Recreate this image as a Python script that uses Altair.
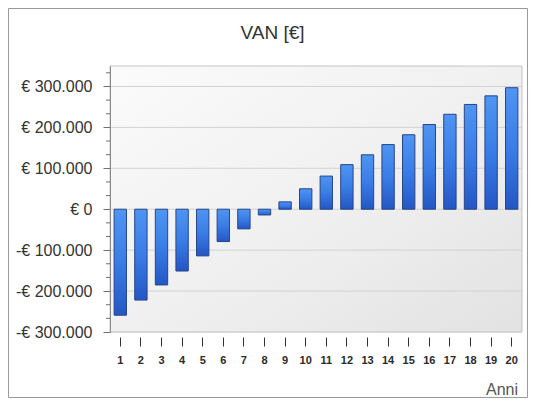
import altair as alt
import pandas as pd

# ---- data ----
years = list(range(1, 21))
van = [-259000, -222000, -185000, -151000, -114000, -79000, -48000, -14000,
       18000, 50000, 81000, 109000, 133000, 158000, 182000, 207000,
       232000, 256000, 277000, 297000]
major_ticks = [-300000, -200000, -100000, 0, 100000, 200000, 300000]
minor_ticks = [-266667, -233333, -166667, -133333, -66667, -33333,
               33333, 66667, 133333, 166667, 233333, 266667, 333333]
chart_title = "VAN [€]"
x_title = "Anni"

W, H = 412, 266
PAD = {"left": 102, "top": 58, "right": 6, "bottom": 66}

df = pd.DataFrame({"anno": years, "van": van})
major_df = pd.DataFrame({"v": major_ticks})
minor_df = pd.DataFrame({"v": minor_ticks})
one = alt.Data(values=[{}])

yscale = alt.Scale(domain=[-300000, 350000], nice=False, zero=False)
xscale = alt.Scale(paddingInner=0.4, paddingOuter=0.2)

label_expr = ("datum.value == 0 ? '€ 0' : (datum.value < 0 ? '-€ ' : '€ ') + "
              "format(abs(datum.value) / 1000, 'd') + '.000'")

yaxis = alt.Axis(values=major_ticks, grid=False, labelExpr=label_expr,
                 domainColor="#8a8a8a", tickColor="#707070", tickSize=7,
                 labelFont="Liberation Sans", labelFontSize=16,
                 labelColor="#333333", labelPadding=11, title=None, zindex=2)

# outer frame
frame = alt.Chart(one).mark_rect(fill="white", stroke="#9a9a9a", strokeWidth=1).encode(
    x=alt.value(-PAD["left"] + 0.5), x2=alt.value(W + PAD["right"] - 0.5),
    y=alt.value(-PAD["top"] + 0.5), y2=alt.value(H + PAD["bottom"] - 0.5),
)

# plot-area background gradient
bg = alt.Chart(one).mark_rect(
    color=alt.Gradient(
        gradient="linear", x1=0, y1=0, x2=1, y2=1,
        stops=[alt.GradientStop(color="#fbfbfb", offset=0),
               alt.GradientStop(color="#eeeeee", offset=0.6),
               alt.GradientStop(color="#e2e2e2", offset=1)],
    ),
    stroke="#c4c4c4", strokeWidth=1,
).encode(x=alt.value(0), x2=alt.value(W), y=alt.value(0), y2=alt.value(H))

# gridlines
grid = alt.Chart(major_df).mark_rule(color="#d2d2d2", strokeWidth=1).encode(
    y=alt.Y("v:Q", scale=yscale, axis=yaxis),
    x=alt.value(0), x2=alt.value(W),
)

# minor ticks on y axis
minor = alt.Chart(minor_df).mark_rule(color="#707070", strokeWidth=1).encode(
    y=alt.Y("v:Q", scale=yscale, axis=yaxis),
    x=alt.value(-4), x2=alt.value(0),
)

# bars
bars = alt.Chart(df).mark_bar(
    color=alt.Gradient(
        gradient="linear", x1=0, y1=0, x2=0, y2=1,
        stops=[alt.GradientStop(color="#4f95f2", offset=0),
               alt.GradientStop(color="#3a7de6", offset=0.5),
               alt.GradientStop(color="#2456c4", offset=1)],
    ),
    stroke="#27468a", strokeWidth=1,
).encode(
    x=alt.X("anno:O", scale=xscale,
            axis=alt.Axis(labelAngle=0, offset=5, domain=False, tickSize=9,
                          tickColor="#333333", labelFont="Liberation Sans",
                          labelFontSize=11, labelFontWeight="bold",
                          labelColor="#2a2a2a", labelPadding=8, title=None,
                          zindex=2)),
    y=alt.Y("van:Q", scale=yscale, axis=yaxis),
    y2=alt.datum(0),
)

title = alt.Chart(one).mark_text(
    text=chart_title, font="Liberation Sans", fontSize=19, color="#333333",
    align="center", baseline="middle",
).encode(x=alt.value(162.5), y=alt.value(-33))

xlab = alt.Chart(one).mark_text(
    text=x_title, font="Liberation Sans", fontSize=16, color="#555555",
    align="right", baseline="middle",
).encode(x=alt.value(408), y=alt.value(324))

chart = alt.layer(frame, bg, grid, minor, bars, title, xlab).properties(
    width=W, height=H,
    autosize=alt.AutoSizeParams(type="none"),
    padding=PAD,
    background="white",
).configure_view(stroke=None)

chart.save("out.html", embed_options={"renderer": "svg", "actions": False})
